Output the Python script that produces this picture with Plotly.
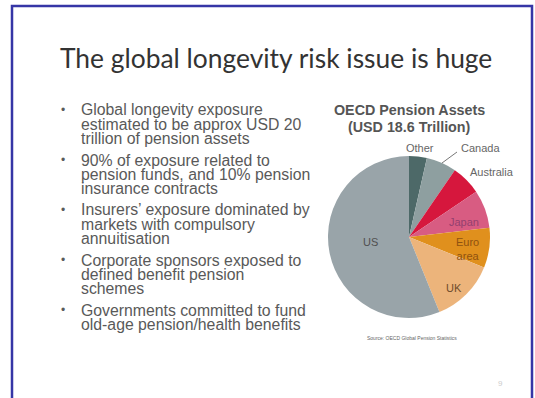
import plotly.graph_objects as go

W, H = 535, 398

# OECD pension assets by region, USD trillions (total 18.6)
regions = ["Other", "Canada", "Australia", "Japan", "Euro area", "UK", "US"]
assets_tn = [0.66, 1.12, 1.11, 1.42, 1.48, 2.37, 10.44]
slice_colors = ["#4d6968", "#8e9fa0", "#d6173d", "#d85c82", "#e0901d", "#ecb47b", "#99a4a9"]

slide_title = "The global longevity risk issue is huge"
chart_title = ["OECD Pension Assets", "(USD 18.6 Trillion)"]
source_note = "Source: OECD Global Pension Statistics"

bullets = [
    ["Global longevity exposure", "estimated to be approx USD 20", "trillion of pension assets"],
    ["90% of exposure related to", "pension funds, and 10% pension", "insurance contracts"],
    ["Insurers\u2019 exposure dominated by", "markets with compulsory", "annuitisation"],
    ["Corporate sponsors exposed to", "defined benefit pension", "schemes"],
    ["Governments committed to fund", "old-age pension/health benefits"],
]

# Slice label placement (pixel centres) and text colours
label_pos = {
    "Other": (420, 148, "#666666"),
    "Canada": (480, 148, "#666666"),
    "Australia": (492, 172, "#666666"),
    "Japan": (464, 222, "#93406f"),
    "Euro area": (468, 249, "#8f5210"),
    "UK": (454, 288, "#6e4c2c"),
    "US": (370, 242, "#505050"),
}


def px(x):
    return x / W


def py(y):
    return 1 - y / H


fig = go.Figure()

cx, cy, r = 409, 237, 81
fig.add_trace(go.Pie(
    labels=regions,
    values=assets_tn,
    sort=False,
    direction="clockwise",
    rotation=0,
    marker=dict(colors=slice_colors, line=dict(width=0)),
    textinfo="none",
    hoverinfo="label+value",
    showlegend=False,
    domain=dict(x=[px(cx - r), px(cx + r)], y=[py(cy + r), py(cy - r)]),
))

annotations = []

# Slide heading
annotations.append(dict(
    text=slide_title, x=px(275.5), y=py(58), xref="paper", yref="paper",
    xanchor="center", yanchor="middle", showarrow=False,
    font=dict(family="Lato", size=26.4, color="#333333"),
))

# Bullet list, one annotation per line
line_h, bullet_gap = 14.4, 6.8
idx = 0
for b, lines in enumerate(bullets):
    for j, line in enumerate(lines):
        y = 110 + idx * line_h + b * bullet_gap
        if j == 0:
            annotations.append(dict(
                text="\u2022", x=px(63), y=py(y), xref="paper", yref="paper",
                xanchor="center", yanchor="middle", showarrow=False,
                font=dict(family="Liberation Sans", size=12, color="#5a5a5a"),
            ))
        annotations.append(dict(
            text=line, x=px(79), y=py(y), xref="paper", yref="paper",
            xanchor="left", yanchor="middle", showarrow=False,
            font=dict(family="Liberation Sans", size=15.8, color="#595959"),
        ))
        idx += 1

# Pie chart heading
for k, t in enumerate(chart_title):
    annotations.append(dict(
        text="<b>" + t + "</b>", x=px(409), y=py(110 + k * 17), xref="paper", yref="paper",
        xanchor="center", yanchor="middle", showarrow=False,
        font=dict(family="Liberation Sans", size=14.3, color="#555555"),
    ))

# Slice labels
for name in regions:
    lx, ly, col = label_pos[name]
    text = "Euro<br>area" if name == "Euro area" else name
    annotations.append(dict(
        text=text, x=px(lx), y=py(ly), xref="paper", yref="paper",
        xanchor="center", yanchor="middle", showarrow=False,
        font=dict(family="Liberation Sans", size=11, color=col),
    ))

# Source note and slide number
annotations.append(dict(
    text=source_note, x=px(412), y=py(338), xref="paper", yref="paper",
    xanchor="center", yanchor="middle", showarrow=False,
    font=dict(family="Liberation Sans", size=5, color="#666666"),
))
annotations.append(dict(
    text="9", x=px(500), y=py(383), xref="paper", yref="paper",
    xanchor="center", yanchor="middle", showarrow=False,
    font=dict(family="Liberation Sans", size=8, color="#cccccc"),
))

shapes = [
    # slide frame
    dict(type="rect", xref="paper", yref="paper",
         x0=px(12), x1=px(532), y0=py(410), y1=py(6),
         line=dict(color="#3636a6", width=2.5), fillcolor="rgba(0,0,0,0)"),
    # Canada leader line
    dict(type="line", xref="paper", yref="paper",
         x0=px(442), y0=py(163), x1=px(457), y1=py(152),
         line=dict(color="#777777", width=1)),
]

fig.update_layout(
    width=W, height=H,
    margin=dict(l=0, r=0, t=0, b=0),
    paper_bgcolor="white", plot_bgcolor="white",
    annotations=annotations,
    shapes=shapes,
)

fig.write_html("out.html")
